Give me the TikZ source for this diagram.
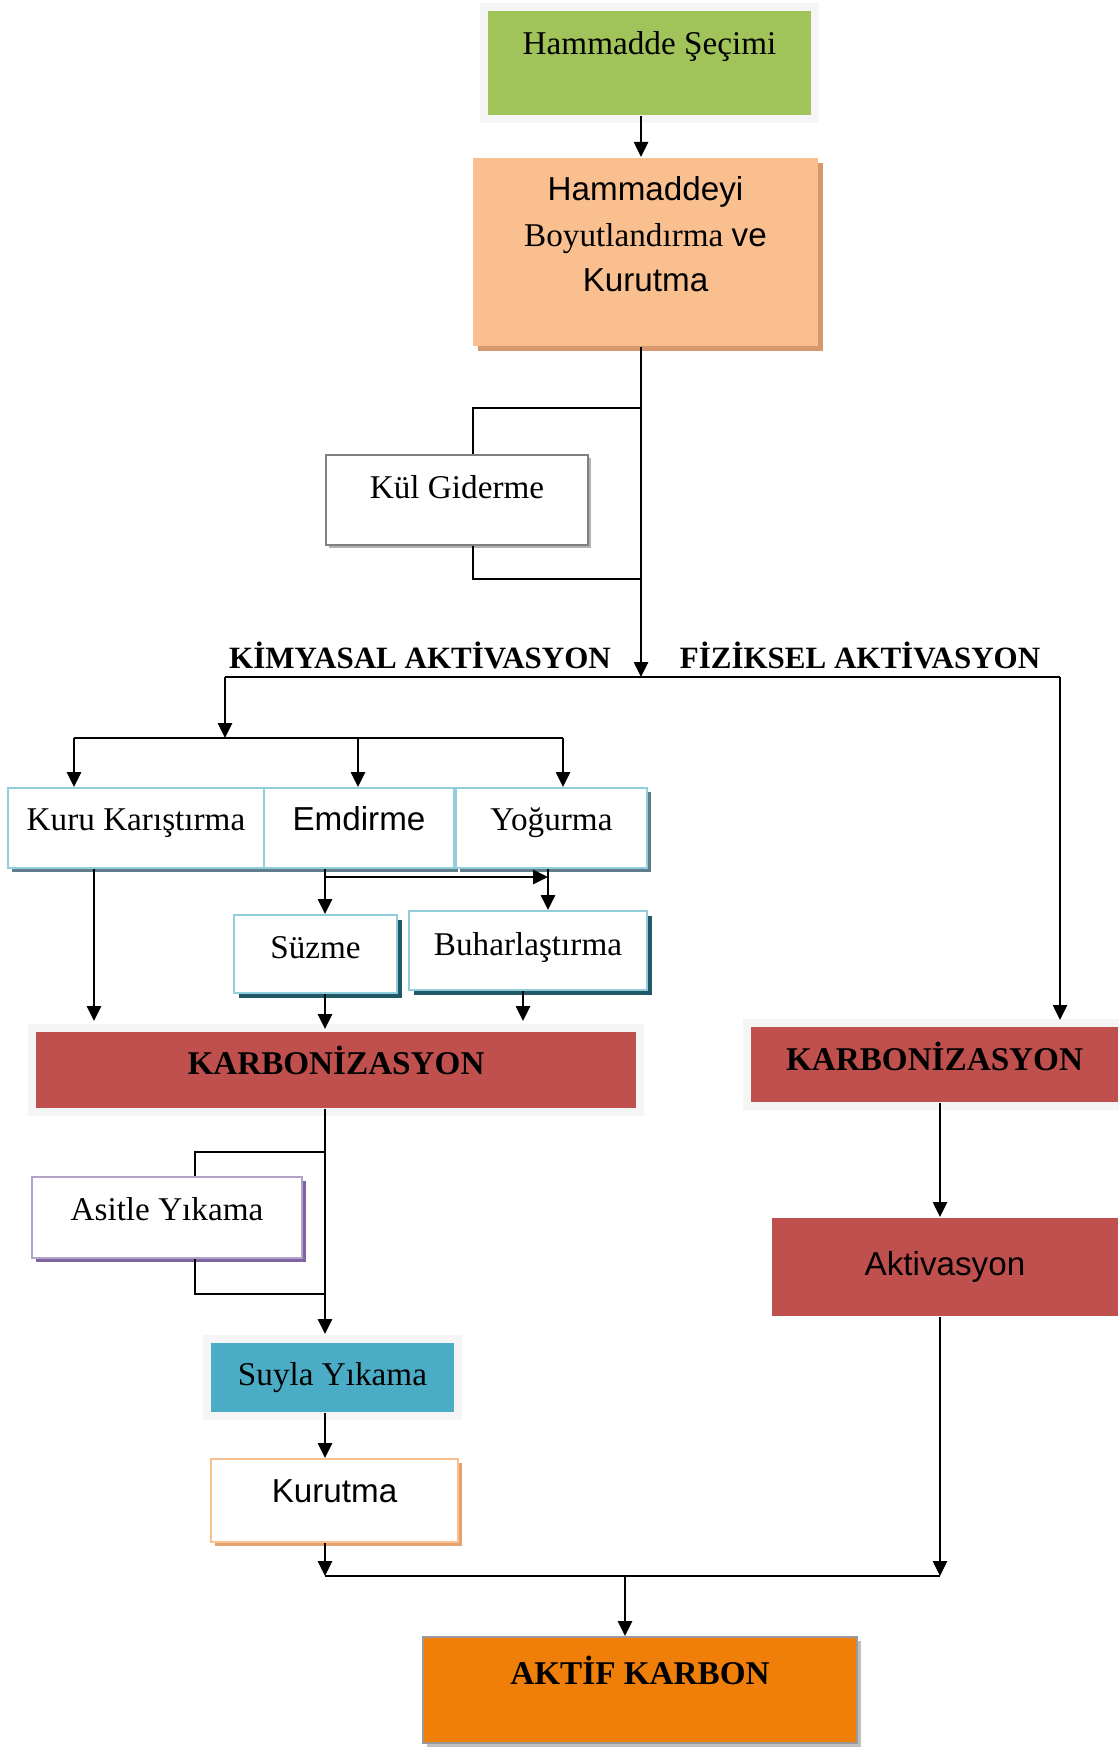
\documentclass[tikz,border=0pt]{standalone}
\usepackage{fontspec}
\setmainfont{Liberation Serif}
\setsansfont{Liberation Sans}
\usetikzlibrary{arrows.meta,shadows}

\definecolor{yesil}{RGB}{160,196,90}
\definecolor{turuncuacik}{RGB}{250,191,143}
\definecolor{turuncugolge}{RGB}{214,152,108}
\definecolor{maviacik}{RGB}{146,205,220}
\definecolor{mavigolge}{RGB}{96,125,139}
\definecolor{petrol}{RGB}{33,89,104}
\definecolor{kirmizi}{RGB}{192,80,77}
\definecolor{mor}{RGB}{179,162,199}
\definecolor{morgolge}{RGB}{128,100,162}
\definecolor{camgobegi}{RGB}{75,172,198}
\definecolor{seftali}{RGB}{250,192,144}
\definecolor{seftaligolge}{RGB}{228,162,112}
\definecolor{turuncu}{RGB}{240,127,9}

\begin{document}
\begin{tikzpicture}[x=0.5pt, y=-0.5pt,
		box/.style={draw, fill=white, line width=1pt, inner xsep=0pt, inner ysep=0pt, font=\fontsize{16.6}{20}\selectfont},
		sz/.style n args={3}{minimum width=#1pt, text height=#2pt, text depth=#3pt},
		golge/.style 2 args={drop shadow={shadow xshift=#1, shadow yshift=-#1, fill=#2, opacity=1}},
		halo/.style={preaction={draw=#1, line width=8pt}},
		head/.style={inner sep=0pt, font=\fontsize{15.5}{18}\selectfont\bfseries},
		wire/.style={line width=1.3pt},
		conn/.style={-{Triangle[width=7pt,length=7.5pt]}, line width=1.3pt}
		]
		\useasboundingbox[fill=white] (0,0) rectangle (1118,1749);
		
		% Hammadde
		\node[box, sz={161.5}{22}{30}, draw=none, fill=yesil, halo=black!4] (hamm) at (649.5,63) {Hammadde Şeçimi};
		\node[box, sz={172.5}{21.5}{72.5}, draw=none, fill=turuncuacik, golge={2.5pt}{turuncugolge}] (boyut) at (645.5,252)
			{\fontsize{16.6}{22.75}\selectfont\begin{tabular}[t]{@{}c@{}}\sffamily Hammaddeyi\\ Boyutlandırma {\sffamily ve}\\ \sffamily Kurutma\end{tabular}};
		\node[box, sz={131}{21.5}{23.5}, draw=black!50, golge={1.5pt}{black!30}] (kul) at (457,500) {Kül Giderme};
		
		% Kimyasal aktivasyon
		\node[head] (kimlab) at (420,655) {KİMYASAL AKTİVASYON};
		\node[head] (fizlab) at (860,655) {FİZİKSEL AKTİVASYON};
		\node[box, sz={128}{21}{19}, draw=maviacik, golge={2pt}{mavigolge}] (kuru) at (136,828) {Kuru Karıştırma};
		\node[box, sz={95}{21}{19}, draw=maviacik, golge={2pt}{mavigolge}] (emd) at (359,828) {\sffamily Emdirme};
		\node[box, sz={95.5}{21}{19}, draw=maviacik, golge={2pt}{mavigolge}] (yog) at (551.5,828) {Yoğurma};
		\node[box, sz={81.5}{21.5}{17.5}, draw=maviacik, golge={2.5pt}{petrol}] (suz) at (315.5,954) {Süzme};
		\node[box, sz={119}{22}{17.5}, draw=maviacik, golge={2.5pt}{petrol}] (buh) at (528,950.5) {Buharlaştırma};
		\node[box, sz={300}{21}{17}, draw=none, fill=kirmizi, halo=black!4] (karb1) at (336,1070) {\bfseries KARBONİZASYON};
		\node[box, sz={135}{21.5}{19}, draw=mor, golge={2pt}{morgolge}] (asit) at (167,1217.5) {Asitle Yıkama};
		\node[box, sz={121.5}{21}{13.5}, draw=none, fill=camgobegi, halo=black!4] (suy) at (332.5,1377.5) {Suyla Yıkama};
		\node[box, sz={123.5}{21.5}{20}, draw=seftali, golge={2pt}{seftaligolge}] (kur) at (334.5,1500.5) {\sffamily Kurutma};
		
		% Fiziksel aktivasyon
		\node[box, sz={183.5}{21.5}{16}, draw=none, fill=kirmizi, halo=black!4] (karb2) at (934.5,1064.5) {\bfseries KARBONİZASYON};
		\node[box, sz={173}{28.5}{20.5}, draw=none, fill=kirmizi] (akt) at (945,1267) {\sffamily Aktivasyon};
		
		% Aktif karbon
		\node[box, sz={217}{23.5}{29.5}, draw=black!40, fill=turuncu, golge={2pt}{black!25}] (son) at (640,1690) {\bfseries AKTİF KARBON};
		
		% Ana hat
		\coordinate (sp) at (641,0);
		\coordinate (ayr) at (641,677);
		\coordinate (kg1) at (641,408);
		\coordinate (kg2) at (641,579);
		\draw[conn] (hamm.south -| sp) -- (boyut.north -| sp);
		\draw[conn] (boyut.south -| sp) -- (ayr);
		\draw[wire] (kg1) -| ([xshift=8pt]kul.north);
		\draw[wire] ([xshift=8pt]kul.south) |- (kg2);
		
		% Ayrim
		\coordinate (kim) at (225,677);
		\coordinate (fiz) at (1060,677);
		\coordinate (dag) at (225,738);
		\coordinate (d1) at (74,738);
		\coordinate (d2) at (358,738);
		\coordinate (d3) at (563,738);
		\draw[wire] (kim) -- (fiz);
		\draw[conn] (kim) -- (dag);
		\draw[wire] (d1) -- (d3);
		\foreach \c/\n in {d1/kuru, d2/emd, d3/yog}
			\draw[conn] (\c) -- (\c |- \n.north);
		
		% Kimyasal kol
		\coordinate (lsp) at (325,0);
		\coordinate (kx) at (94,0);
		\coordinate (yx) at (548,0);
		\coordinate (bx) at (523,0);
		\coordinate (eb) at (325,877);
		\draw[conn, shorten >=5pt] (kuru.south -| kx) -- (karb1.north -| kx);
		\draw[conn] (emd.south -| lsp) -- (suz.north -| lsp);
		\draw[conn] (eb) -- (eb -| yx);
		\draw[conn] (yog.south -| yx) -- (buh.north -| yx);
		\draw[conn, shorten >=1pt] (suz.south -| lsp) -- (karb1.north -| lsp);
		\draw[conn, shorten >=5pt] (buh.south -| bx) -- (karb1.north -| bx);
		\draw[conn, shorten >=4pt] (karb1.south -| lsp) -- (suy.north -| lsp);
		\coordinate (ay1) at (325,1152);
		\coordinate (ay2) at (325,1294);
		\draw[wire] (ay1) -| ([xshift=14pt]asit.north);
		\draw[wire] ([xshift=14pt]asit.south) |- (ay2);
		\draw[conn] (suy.south -| lsp) -- (kur.north -| lsp);
		
		% Fiziksel kol
		\coordinate (rsp) at (940,0);
		\draw[conn, shorten >=3pt] (fiz) -- (fiz |- karb2.north);
		\draw[conn] (karb2.south -| rsp) -- (akt.north -| rsp);
		
		% Birlesme
		\coordinate (jl) at (325,1576);
		\coordinate (jr) at (940,1576);
		\coordinate (ox) at (625,0);
		\draw[conn] (kur.south -| lsp) -- (jl);
		\draw[conn] (akt.south -| rsp) -- (jr);
		\draw[wire] (jl) -- (jr);
		\draw[conn] (jl -| ox) -- (son.north -| ox);
		
	\end{tikzpicture}
\end{document}
